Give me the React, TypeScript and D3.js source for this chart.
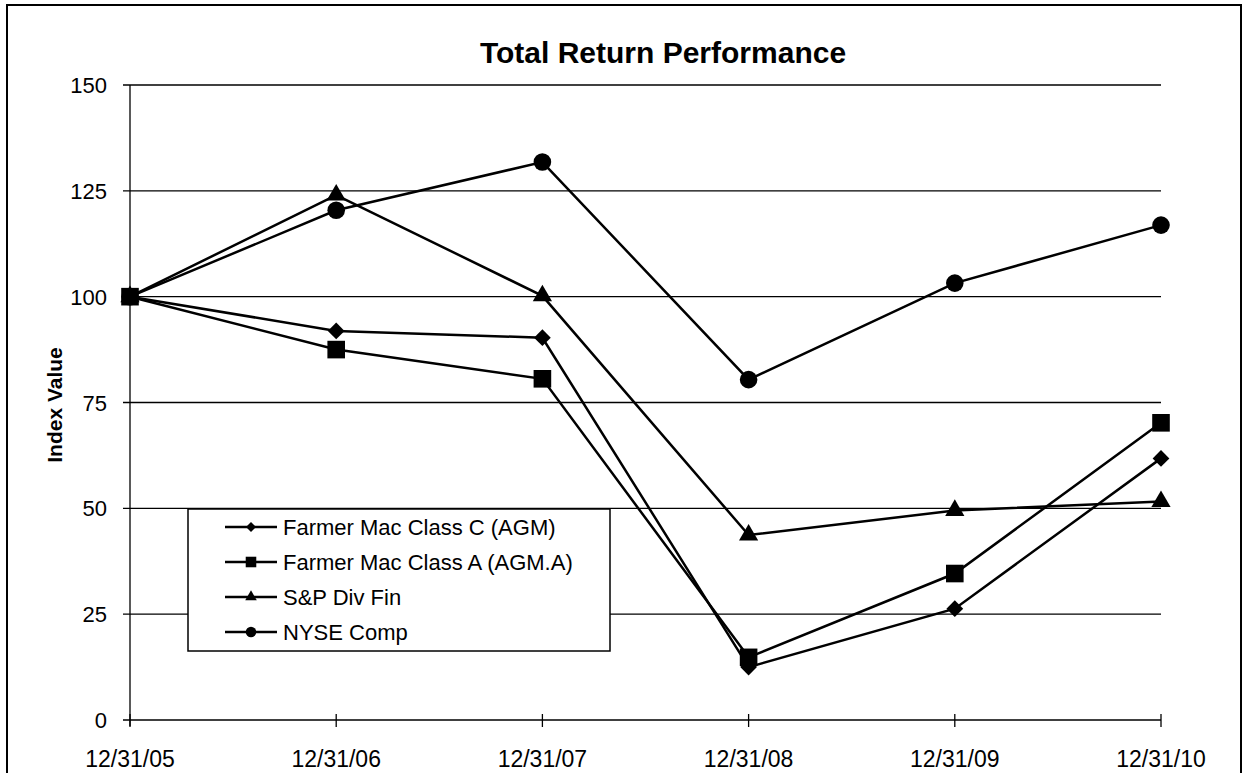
import React from "react";
import * as d3 from "d3";

const dates = ["12/31/05", "12/31/06", "12/31/07", "12/31/08", "12/31/09", "12/31/10"];
const yTicks = [0, 25, 50, 75, 100, 125, 150];

const agm = [100, 91.9, 90.3, 12.5, 26.3, 61.8];
const agmA = [100, 87.5, 80.6, 14.8, 34.6, 70.2];
const spDivFin = [100, 124.0, 100.2, 43.7, 49.5, 51.6];
const nyseComp = [100, 120.4, 131.8, 80.4, 103.2, 116.9];

const seriesNames = [
  "Farmer Mac Class C (AGM)",
  "Farmer Mac Class A (AGM.A)",
  "S&P Div Fin",
  "NYSE Comp",
];

const FONT = "'Liberation Sans', Arial, sans-serif";

const width = 1247;
const height = 773;

function Marker({ kind, x, y, big }: { kind: string; x: number; y: number; big: boolean }) {
  const k = big ? 1 : 0.6;
  if (kind === "diamond") {
    const p = d3.symbol(d3.symbolSquare, 140 * k * k)();
    return <path d={p || ""} transform={`translate(${x},${y}) rotate(45)`} fill="#000" />;
  }
  if (kind === "square") {
    const p = d3.symbol(d3.symbolSquare, 310 * k * k)();
    return <path d={p || ""} transform={`translate(${x},${y})`} fill="#000" />;
  }
  if (kind === "triangle") {
    const p = d3.symbol(d3.symbolTriangle, 160 * k * k)();
    return <path d={p || ""} transform={`translate(${x},${y})`} fill="#000" />;
  }
  return <circle cx={x} cy={y} r={8.8 * k} fill="#000" />;
}

export default function App() {
  const x = d3.scalePoint<string>().domain(dates).range([130, 1161]);
  const y = d3.scaleLinear().domain([0, 150]).range([720, 85]);

  const series = [
    { name: seriesNames[0], values: agm, kind: "diamond" },
    { name: seriesNames[1], values: agmA, kind: "square" },
    { name: seriesNames[2], values: spDivFin, kind: "triangle" },
    { name: seriesNames[3], values: nyseComp, kind: "circle" },
  ];

  const line = d3
    .line<number>()
    .x((_, i) => x(dates[i]) as number)
    .y((d) => y(d));

  const legendX = 188;
  const legendY = 509;

  return (
    <svg
      width={width}
      height={height}
      style={{ position: "absolute", left: 0, top: 0, background: "#fff" }}
      fontFamily={FONT}
    >
      {/* outer frame */}
      <rect x={7} y={5} width={1234} height={800} fill="none" stroke="#000" strokeWidth={2} />

      <text x={663} y={63} textAnchor="middle" fontSize={30} fontWeight="bold">
        Total Return Performance
      </text>

      {/* gridlines */}
      {yTicks.map((t) => (
        <line key={t} x1={123} x2={1161} y1={y(t)} y2={y(t)} stroke="#000" strokeWidth={1.3} />
      ))}
      {yTicks.map((t) => (
        <text key={"l" + t} x={107} y={y(t) + 8} textAnchor="end" fontSize={22}>
          {t}
        </text>
      ))}

      {/* y axis */}
      <line x1={130} x2={130} y1={y(150)} y2={y(0) + 6} stroke="#000" strokeWidth={1.3} />
      {/* x ticks */}
      {dates.map((d) => (
        <line key={d} x1={x(d)} x2={x(d)} y1={y(0) - 6} y2={y(0) + 7} stroke="#000" strokeWidth={1.3} />
      ))}
      {dates.map((d) => (
        <text key={"x" + d} x={x(d)} y={767} textAnchor="middle" fontSize={23}>
          {d}
        </text>
      ))}

      <text
        transform={`translate(62,405) rotate(-90)`}
        textAnchor="middle"
        fontSize={21}
        fontWeight="bold"
      >
        Index Value
      </text>

      {/* series */}
      {series.map((s) => (
        <g key={s.name}>
          <path d={line(s.values) || ""} fill="none" stroke="#000" strokeWidth={2.5} />
          {s.values.map((v, i) => (
            <Marker key={i} kind={s.kind} x={x(dates[i]) as number} y={y(v)} big={true} />
          ))}
        </g>
      ))}

      {/* legend */}
      <rect x={legendX} y={legendY} width={422} height={142} fill="#fff" stroke="#000" strokeWidth={1.5} />
      {series.map((s, i) => {
        const cy = legendY + 18 + i * 35;
        return (
          <g key={"lg" + s.name}>
            <line x1={225} x2={277} y1={cy} y2={cy} stroke="#000" strokeWidth={2.5} />
            <Marker kind={s.kind} x={251} y={cy} big={false} />
            <text x={283} y={cy + 8} fontSize={22}>
              {s.name}
            </text>
          </g>
        );
      })}
    </svg>
  );
}
